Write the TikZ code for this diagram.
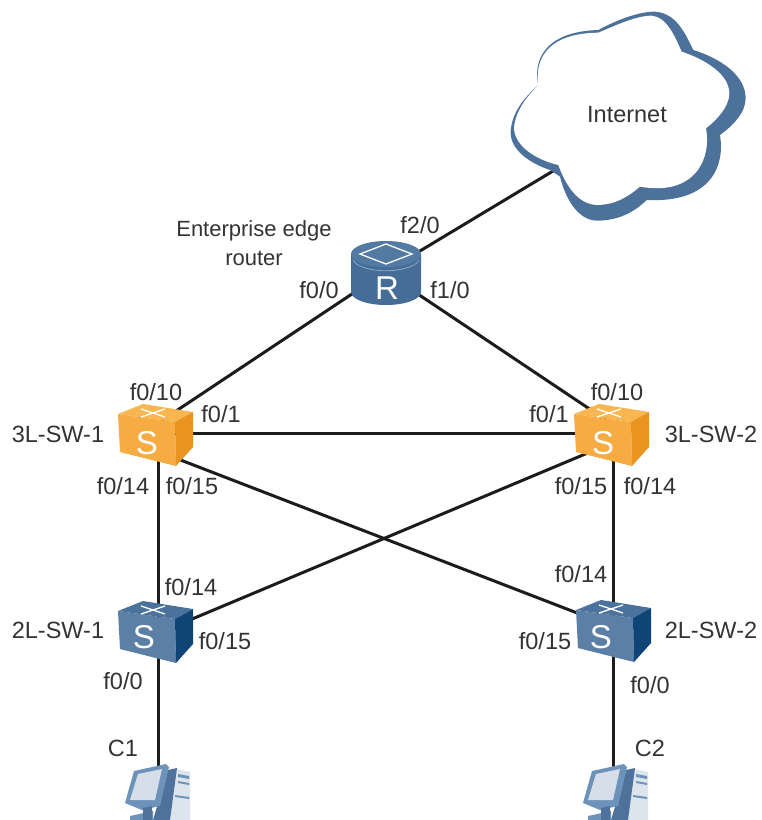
\documentclass[tikz,border=0pt]{standalone}
\usepackage{fontspec}
\setmainfont{Liberation Sans}
\definecolor{ink}{HTML}{333333}
\definecolor{wire}{HTML}{1C1C1C}
\definecolor{cloudblue}{HTML}{4C729C}
\definecolor{rtop}{HTML}{527AA3}
\definecolor{rside}{HTML}{466D97}
\definecolor{bfront}{HTML}{5C7FA5}
\definecolor{btop}{HTML}{4A729C}
\definecolor{bright}{HTML}{0F4576}
\definecolor{ofront}{HTML}{F6AC42}
\definecolor{otop}{HTML}{F8B650}
\definecolor{oright}{HTML}{E8941F}
\definecolor{pcscreen}{HTML}{D5DEE9}
\definecolor{pclight}{HTML}{DCE4EE}
\definecolor{pcframe}{HTML}{6E93BA}
\definecolor{pcdark}{HTML}{4E729B}
\tikzset{
  lab/.style={text=ink,font=\fontsize{23.5}{27}\selectfont,inner sep=0pt,align=center},
  biglab/.style={text=ink,font=\fontsize{22}{29}\selectfont,inner sep=0pt,align=center},
  link/.style={draw=wire,line width=3pt},
  glyph/.style={text=white,font=\fontsize{33}{33}\selectfont,inner sep=0pt},
  lobe/.style={smooth,tension=1},
}
% #1 front, #2 top, #3 right
\newcommand{\swbox}[5]{%
\begin{scope}[shift={(#1,#2)}]
  \fill[#3] (118,414) -- (175,422) -- (176,466) -- (120,452) -- cycle;
  \fill[#4] (118,414) -- (143,404) -- (193,412) -- (175,422) -- cycle;
  \fill[#5] (175,422) -- (193,412) -- (193,447) -- (176,466) -- cycle;
  \draw[white,line width=1.3pt] (141,409) -- (165,417) (141,417) -- (165,409);
\end{scope}}
\newcommand{\pcicon}[2]{%
\begin{scope}[shift={(#1,#2)}]
  \fill[pclight] (176,769) -- (190,772) -- (190,820) -- (170,820) -- cycle;
  \fill[pcframe] (178,774) -- (189,776) -- (189,779) -- (178,777) -- cycle;
  \fill[pcframe] (178,781) -- (189,783) -- (189,785) -- (178,783) -- cycle;
  \fill[pcframe] (175,795) -- (189,797) -- (189,799) -- (175,797) -- cycle;
  \fill[pcdark] (168,770) -- (177,768) -- (170,820) -- (153,820) -- cycle;
  \fill[pcframe] (134,771) -- (166,764) -- (169,767) -- (160,806) -- (142,810) -- (125,803) -- cycle;
  \fill[pcscreen] (138,774) -- (162,769) -- (155,800) -- (130,800) -- cycle;
  \fill[pcframe] (130,816) -- (153,811) -- (153,820) -- (130,820) -- cycle;
  \fill[pcdark] (143,808) -- (152,806) -- (152,820) -- (143,820) -- cycle;
\end{scope}}
\begin{document}
\begin{tikzpicture}[x=1pt,y=-1pt]
\useasboundingbox (0,0) rectangle (762,820);
\fill[white] (0,0) rectangle (762,820);
% anchor points
\coordinate (net) at (553,171);
\coordinate (r) at (385,272);
\coordinate (sw1) at (155,425);
\coordinate (sw1h) at (170,433);
\coordinate (sw1d) at (158,450);
\coordinate (sw1x) at (165,454);
\coordinate (sw2) at (606,420);
\coordinate (sw2h) at (590,433);
\coordinate (sw2d) at (613,450);
\coordinate (sw2x) at (590,452);
\coordinate (l1u) at (158,630);
\coordinate (l1d) at (158,650);
\coordinate (l1x) at (185,622);
\coordinate (l2u) at (613,630);
\coordinate (l2d) at (613,650);
\coordinate (l2x) at (585,616);
\coordinate (c1) at (158,770);
\coordinate (c2) at (613,770);
% connectors
\draw[link] (net) -- (r);
\draw[link] (r) -- (sw1);
\draw[link] (r) -- (sw2);
\draw[link] (sw1h) -- (sw2h);
\draw[link] (sw1x) -- (l2x);
\draw[link] (sw2x) -- (l1x);
\draw[link] (sw1d) -- (l1u);
\draw[link] (sw2d) -- (l2u);
\draw[link] (l1d) -- (c1);
\draw[link] (l2d) -- (c2);
% cloud
\begin{scope}[shift={(500,0)},x=0.3333pt,y=-0.3333pt]
\fill[cloudblue] (115,255) .. controls (100,190) and (125,95) .. (295,90)
  .. controls (360,55) and (420,35) .. (465,35)
  .. controls (530,40) and (555,100) .. (580,150)
  .. controls (660,175) and (737,225) .. (737,295)
  .. controls (737,340) and (695,380) .. (660,405)
  .. controls (675,490) and (640,610) .. (440,600)
  .. controls (400,640) and (350,662) .. (290,662)
  .. controls (230,660) and (195,590) .. (180,530)
  -- (150,510)
  .. controls (90,490) and (30,450) .. (32,395)
  .. controls (35,340) and (70,295) .. (115,255) -- cycle;
\fill[white] (115,255) .. controls (105,190) and (130,100) .. (295,98)
  .. controls (350,75) and (410,47) .. (455,47)
  .. controls (500,50) and (525,110) .. (545,155)
  .. controls (620,180) and (688,225) .. (688,280)
  .. controls (688,320) and (650,360) .. (618,385)
  .. controls (635,470) and (590,590) .. (420,560)
  .. controls (385,590) and (345,615) .. (290,615)
  .. controls (230,612) and (195,550) .. (175,495)
  .. controls (110,480) and (45,440) .. (42,385)
  .. controls (45,335) and (80,290) .. (115,255) -- cycle;
\end{scope}
% router
\fill[rside] (351,254) -- (351,292) arc[start angle=180,end angle=0,x radius=35,y radius=13] -- (421,254) -- cycle;
\fill[rtop] (386,254) ellipse[x radius=35,y radius=13];
\draw[white,line width=1.3pt] (360,254) -- (386,244) -- (412,254) -- (386,264) -- cycle;
\draw[white,line width=.8pt,opacity=.4] (353,260) arc[start angle=170,end angle=10,x radius=33.5,y radius=13];
\node[glyph] (rglyph) at (387,288) {R};
% switches
\swbox{0}{0}{ofront}{otop}{oright}
\node[glyph] (s1) at (147,443) {S};
\swbox{456}{0}{ofront}{otop}{oright}
\node[glyph] (s2) at (603,443) {S};
\swbox{0}{197}{bfront}{btop}{bright}
\node[glyph] (s3) at (144,637) {S};
\swbox{458}{196}{bfront}{btop}{bright}
\node[glyph] (s4) at (601,637) {S};
% hosts
\pcicon{0}{0}
\pcicon{458}{0}
% labels
\node[lab] (tinternet) at (627,115) {Internet};
\node[biglab] (trouter) at (254,243) {Enterprise edge\\router};
\node[lab] (p1) at (420,225) {f2/0};
\node[lab] (p2) at (319,290) {f0/0};
\node[lab] (p3) at (450,290) {f1/0};
\node[lab] (p4) at (156,392) {f0/10};
\node[lab] (p5) at (617,392) {f0/10};
\node[lab] (p6) at (221,414) {f0/1};
\node[lab] (p7) at (549,414) {f0/1};
\node[lab] (t1) at (58,434) {3L-SW-1};
\node[lab] (t2) at (711,434) {3L-SW-2};
\node[lab] (p8) at (123,486) {f0/14};
\node[lab] (p9) at (192,486) {f0/15};
\node[lab] (p10) at (581,486) {f0/15};
\node[lab] (p11) at (650,486) {f0/14};
\node[lab] (p12) at (191,587) {f0/14};
\node[lab] (p13) at (581,574) {f0/14};
\node[lab] (t3) at (58,630) {2L-SW-1};
\node[lab] (t4) at (711,630) {2L-SW-2};
\node[lab] (p14) at (225,641) {f0/15};
\node[lab] (p15) at (545,641) {f0/15};
\node[lab] (p16) at (123,681) {f0/0};
\node[lab] (p17) at (650,685) {f0/0};
\node[lab] (t5) at (123,748) {C1};
\node[lab] (t6) at (650,748) {C2};
\end{tikzpicture}
\end{document}
